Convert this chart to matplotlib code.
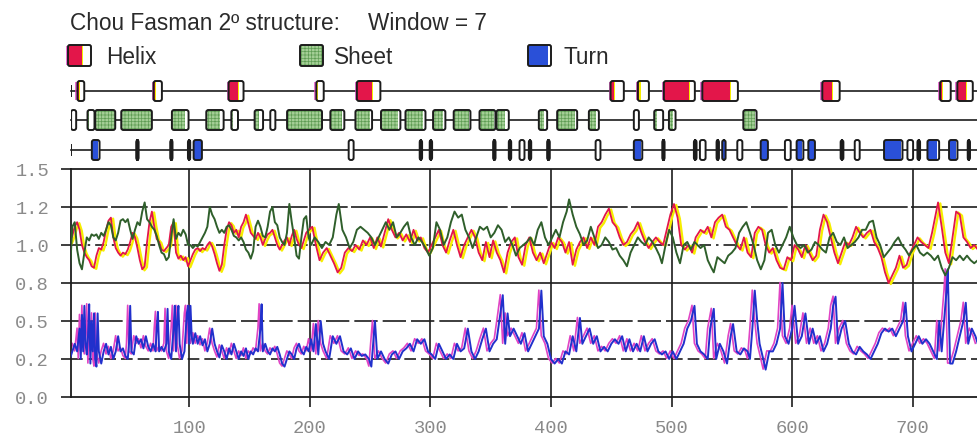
import matplotlib
matplotlib.use("Agg")
import matplotlib.pyplot as plt
from matplotlib.patches import FancyBboxPatch, Rectangle
from matplotlib.transforms import offset_copy

# ---------------- data ----------------
title_left = "Chou Fasman 2º structure:"
title_right = "Window = 7"
legend_labels = ["Helix", "Sheet", "Turn"]

xtick_vals = [100, 200, 300, 400, 500, 600, 700]
xtick_labels = ["100", "200", "300", "400", "500", "600", "700"]
ytick_vals = [0.0, 0.25, 0.5, 0.75, 1.0, 1.25, 1.5]
ytick_labels = ["0.0", "0.2", "0.5", "0.8", "1.0", "1.2", "1.5"]

helix_pts = [
    (1,1.02),(3,1.06),(5,1.12),(7,1.15),(9,1.1),(11,1.0),(13,0.95),(15,0.92),(17,0.9),(19,0.86),
    (21,0.85),(23,0.93),(25,0.98),(27,0.97),(29,1.02),(31,1.1),(33,1.16),(35,1.18),(37,1.05),(39,0.98),
    (41,0.95),(43,0.93),(45,0.95),(47,0.94),(49,0.97),(51,1.02),(53,1.08),(55,1.05),(57,0.98),(59,0.9),
    (61,0.84),(63,0.86),(65,1.02),(67,1.15),(69,1.22),(71,1.12),(73,1.04),(75,1.02),(77,0.97),(79,0.96),
    (81,0.98),(83,1.0),(85,1.12),(87,1.15),(89,0.95),(91,0.91),(93,0.93),(95,0.9),(97,0.92),(99,0.86),
    (101,0.9),(103,0.94),(105,0.97),(107,0.98),(109,0.96),(111,0.98),(113,0.97),(115,1.0),(117,1.02),(119,0.99),
    (121,0.94),(123,0.88),(125,0.83),(127,0.87),(129,1.0),(131,1.1),(133,1.15),(135,1.13),(137,1.08),(139,1.1),
    (141,1.05),(143,1.12),(145,1.15),(147,1.2),(149,1.14),(151,1.08),(153,1.06),(155,1.04),(157,1.08),(159,1.05),
    (161,1.0),(163,1.04),(165,1.07),(167,1.08),(169,1.1),(171,1.05),(173,1.0),(175,0.97),(177,1.0),(179,1.03),
    (181,1.05),(183,1.0),(185,1.06),(187,1.1),(189,1.04),(191,1.0),(193,0.98),(195,1.03),(197,1.08),(199,1.1),
    (202,1.12),(205,1.0),(208,0.9),(211,0.95),(214,0.98),(217,0.93),(220,0.88),(223,0.82),(226,0.85),(229,0.95),
    (232,0.98),(235,0.96),(238,1.0),(241,0.97),(244,1.03),(247,1.0),(250,1.05),(253,0.98),(256,1.05),(259,0.99),
    (262,1.08),(265,1.17),(268,1.1),(271,1.05),(274,1.08),(277,1.03),(280,1.07),(283,1.02),(286,1.1),(289,1.03),
    (292,1.05),(295,0.98),(298,0.95),(301,1.0),(304,1.05),(307,1.1),(310,1.0),(313,0.95),(316,1.03),(319,1.1),
    (322,1.0),(325,0.92),(328,1.0),(331,1.05),(334,1.1),(337,1.05),(340,0.95),(343,0.9),(346,1.02),(349,0.92),
    (352,1.03),(355,0.95),(358,0.9),(361,0.82),(364,0.95),(367,1.02),(370,1.05),(373,0.92),(376,0.87),(379,1.0),
    (382,1.05),(385,0.95),(388,0.9),(391,0.95),(394,0.88),(397,0.95),(400,1.02),(403,0.98),(406,1.05),(409,1.02),
    (412,0.95),(415,1.02),(418,0.87),(421,0.97),(424,1.02),(427,1.05),(430,0.98),(433,1.05),(436,1.0),(439,1.12),
    (442,1.15),(445,1.2),(448,1.24),(451,1.15),(454,1.12),(457,1.05),(460,1.0),(463,1.02),(466,1.07),(469,1.1),
    (472,1.15),(475,1.08),(478,1.02),(481,0.98),(484,1.02),(487,1.05),(490,1.02),(493,1.0),(496,1.1),(499,1.2),
    (502,1.27),(505,1.18),(508,1.0),(511,0.97),(514,1.0),(517,0.95),(520,1.05),(524,1.1),(527,1.08),(530,1.12),
    (533,1.05),(536,1.15),(539,1.18),(542,1.2),(545,1.12),(548,1.1),(551,1.05),(554,1.0),(557,0.97),(560,1.05),
    (563,0.95),(566,0.92),(569,1.08),(572,1.12),(575,1.1),(578,1.0),(581,0.95),(584,0.98),(587,0.9),(590,0.85),
    (593,0.84),(596,0.92),(599,0.9),(602,1.0),(605,0.97),(608,0.92),(611,1.0),(614,0.95),(617,0.9),(620,0.93),
    (623,1.1),(626,1.2),(629,1.15),(632,1.05),(635,0.95),(638,0.88),(641,0.95),(644,1.02),(647,1.0),(650,1.05),
    (653,1.12),(656,1.08),(659,1.05),(662,1.08),(665,1.1),(668,1.02),(671,0.98),(674,0.92),(677,0.82),(680,0.75),
    (683,0.8),(686,0.85),(689,0.93),(692,0.85),(695,0.87),(698,0.95),(701,1.0),(704,1.05),(707,1.02),(710,1.0),
    (713,0.98),(716,1.08),(719,1.2),(721,1.28),(724,1.12),(727,0.95),(730,0.88),(733,1.05),(736,1.22),(739,1.2),
    (742,1.05),(745,1.02),(748,0.98),(751,1.0),(754,0.97),
]

sheet_pts = [
    (1,0.82),(3,1.12),(5,1.15),(7,0.97),(9,0.88),(11,0.84),(13,0.95),(15,1.05),(17,1.03),(19,1.07),
    (21,1.06),(23,1.07),(25,1.04),(27,1.08),(29,1.06),(31,1.1),(33,1.15),(35,1.13),(37,1.05),(39,1.03),
    (41,1.08),(43,1.16),(45,1.17),(47,1.15),(49,1.17),(51,1.1),(53,1.04),(55,1.1),(57,1.15),(59,1.13),
    (61,1.22),(63,1.28),(65,1.17),(67,1.15),(69,1.12),(71,1.1),(73,1.06),(75,1.0),(77,0.95),(79,0.94),
    (81,0.9),(83,0.92),(85,1.05),(87,1.17),(89,1.04),(91,1.08),(93,1.06),(95,1.1),(97,1.07),(99,1.0),
    (101,1.0),(103,0.98),(105,1.0),(107,0.99),(109,1.02),(111,1.05),(113,1.08),(115,1.12),(117,1.25),(119,1.2),
    (121,1.17),(123,1.12),(125,1.08),(127,1.1),(129,1.08),(131,1.12),(133,1.13),(135,1.1),(137,1.06),(139,1.05),
    (141,1.03),(143,1.05),(145,1.02),(147,0.97),(149,0.95),(151,0.91),(153,0.96),(155,1.12),(157,1.16),(159,1.12),
    (161,1.06),(163,1.05),(165,1.12),(167,1.22),(169,1.25),(171,1.15),(173,1.13),(175,1.05),(177,1.02),(179,1.0),
    (181,1.08),(183,1.27),(185,1.15),(187,1.05),(189,0.93),(191,0.91),(193,1.05),(195,1.17),(197,1.19),(199,1.05),
    (201,1.0),(204,1.05),(207,1.02),(210,0.98),(213,1.02),(216,1.0),(219,1.05),(222,1.2),(224,1.27),(227,1.1),
    (230,1.05),(233,0.98),(236,1.02),(239,1.1),(242,1.12),(245,1.1),(248,1.08),(251,1.05),(254,1.0),(257,1.05),
    (260,1.1),(263,1.15),(266,1.1),(269,1.15),(272,1.05),(275,1.08),(278,1.12),(281,1.15),(284,1.05),(287,1.0),
    (290,1.05),(293,1.02),(296,0.98),(299,0.93),(302,0.98),(305,1.15),(308,1.1),(311,1.0),(314,1.05),(317,1.15),
    (320,1.22),(323,1.18),(326,1.2),(329,1.1),(332,1.05),(335,0.98),(338,1.05),(341,1.12),(344,1.1),(347,1.12),
    (350,1.05),(353,1.08),(356,1.13),(359,1.1),(362,1.02),(365,1.05),(368,1.0),(371,0.93),(374,0.98),(377,1.0),
    (380,1.02),(383,1.05),(386,1.0),(389,1.1),(392,1.15),(395,1.05),(398,1.0),(401,1.05),(404,1.1),(407,1.05),
    (410,1.15),(413,1.22),(415,1.3),(418,1.2),(421,1.12),(424,1.07),(427,1.0),(430,1.03),(433,1.12),(436,1.05),
    (439,0.98),(442,1.0),(445,1.05),(448,1.02),(451,0.97),(454,0.98),(457,0.93),(460,0.9),(463,0.86),(466,0.95),
    (469,1.0),(472,1.05),(475,1.02),(478,1.0),(481,1.05),(484,1.02),(487,0.98),(490,0.93),(492,0.88),(495,1.0),
    (498,1.1),(501,1.05),(504,0.95),(507,0.88),(510,1.0),(513,1.02),(516,0.97),(519,1.02),(524,0.98),(527,1.0),
    (530,0.9),(533,0.85),(535,0.82),(538,0.92),(541,0.9),(544,0.88),(547,0.93),(550,0.95),(553,0.98),(556,1.08),
    (559,1.12),(562,1.15),(565,1.08),(568,1.0),(571,0.9),(574,0.84),(577,0.9),(580,1.08),(583,1.1),(586,1.0),
    (589,0.95),(592,1.0),(595,1.05),(598,1.12),(601,1.05),(604,1.0),(607,0.98),(610,1.0),(613,0.95),(616,0.97),
    (619,1.02),(622,1.0),(625,0.97),(628,0.95),(631,1.05),(634,1.08),(637,1.02),(640,1.0),(643,1.05),(646,0.98),
    (649,1.0),(652,1.02),(655,1.05),(658,1.1),(661,1.1),(664,1.15),(667,1.16),(670,1.05),(673,1.0),(676,0.92),
    (679,0.95),(682,0.98),(685,1.02),(688,1.05),(691,1.0),(694,0.97),(697,0.93),(700,0.97),(703,1.0),(706,0.95),
    (709,0.93),(712,0.95),(715,0.93),(718,0.9),(721,0.93),(724,0.85),(727,0.8),(730,0.85),(733,0.92),(736,0.9),
    (739,0.93),(742,0.9),(745,0.93),(748,0.9),(751,0.88),(754,0.9),
]

turn_pts = [
    (1,0.25),(3,0.3),(5,0.35),(7,0.3),(9,0.45),(10,0.25),(11,0.54),(12,0.3),(13,0.6),(14,0.35),
    (15,0.28),(16,0.4),(17,0.61),(18,0.22),(19,0.5),(20,0.3),(21,0.55),(22,0.25),(23,0.2),(24,0.55),
    (25,0.3),(27,0.22),(29,0.3),(31,0.35),(33,0.28),(35,0.33),(37,0.25),(39,0.3),(41,0.4),(43,0.3),
    (45,0.32),(47,0.27),(49,0.25),(50,0.35),(51,0.6),(52,0.3),(54,0.28),(56,0.4),(58,0.35),(60,0.38),
    (62,0.32),(64,0.4),(66,0.33),(68,0.3),(70,0.35),(72,0.3),(73,0.45),(74,0.56),(75,0.3),(77,0.33),
    (79,0.3),(81,0.35),(82,0.58),(83,0.3),(85,0.25),(87,0.45),(88,0.6),(89,0.3),(90,0.5),(91,0.6),
    (92,0.35),(94,0.25),(96,0.3),(98,0.55),(99,0.6),(100,0.35),(101,0.6),(102,0.4),(103,0.35),(105,0.42),
    (107,0.35),(109,0.4),(111,0.34),(113,0.38),(115,0.3),(117,0.35),(119,0.45),(121,0.35),(123,0.3),(125,0.26),
    (127,0.34),(129,0.3),(131,0.25),(133,0.32),(135,0.28),(137,0.35),(139,0.3),(141,0.25),(143,0.3),(145,0.27),
    (147,0.32),(149,0.25),(151,0.3),(153,0.28),(155,0.32),(157,0.3),(159,0.45),(160,0.61),(161,0.3),(163,0.35),
    (165,0.3),(167,0.28),(169,0.32),(171,0.3),(173,0.33),(175,0.28),(177,0.22),(179,0.2),(181,0.25),(183,0.3),
    (185,0.28),(187,0.25),(189,0.32),(191,0.35),(193,0.3),(195,0.28),(197,0.33),(199,0.3),(201,0.38),(203,0.3),
    (205,0.48),(207,0.28),(209,0.5),(211,0.35),(213,0.3),(216,0.25),(219,0.4),(222,0.35),(225,0.4),(228,0.3),
    (231,0.28),(234,0.32),(237,0.25),(240,0.3),(243,0.27),(246,0.28),(249,0.25),(251,0.2),(254,0.5),(256,0.25),
    (259,0.3),(262,0.25),(265,0.22),(268,0.28),(271,0.3),(274,0.25),(277,0.3),(280,0.32),(283,0.35),(286,0.3),
    (289,0.38),(292,0.35),(295,0.38),(298,0.3),(301,0.28),(304,0.25),(307,0.35),(310,0.3),(313,0.25),(316,0.28),
    (319,0.25),(322,0.35),(325,0.3),(328,0.32),(331,0.45),(334,0.3),(337,0.25),(340,0.3),(343,0.38),(346,0.45),
    (349,0.3),(352,0.35),(355,0.38),(358,0.55),(360,0.67),(362,0.35),(364,0.55),(366,0.4),(369,0.45),(372,0.4),
    (375,0.35),(378,0.42),(381,0.3),(384,0.35),(387,0.4),(390,0.45),(392,0.7),(394,0.4),(397,0.35),(400,0.25),
    (403,0.22),(406,0.25),(409,0.22),(412,0.3),(415,0.28),(418,0.4),(421,0.3),(424,0.52),(426,0.35),(429,0.4),
    (432,0.45),(435,0.35),(438,0.4),(441,0.3),(444,0.33),(447,0.3),(450,0.35),(453,0.38),(456,0.35),(459,0.4),
    (462,0.3),(465,0.38),(468,0.3),(471,0.35),(474,0.3),(477,0.4),(480,0.3),(483,0.35),(486,0.38),(489,0.3),
    (492,0.28),(495,0.3),(498,0.25),(501,0.3),(504,0.25),(507,0.3),(510,0.35),(513,0.45),(516,0.5),(519,0.6),
    (521,0.35),(524,0.3),(527,0.28),(530,0.25),(532,0.45),(535,0.58),(537,0.25),(540,0.35),(543,0.3),(546,0.22),
    (549,0.4),(551,0.48),(554,0.3),(557,0.28),(560,0.32),(563,0.3),(565,0.25),(567,0.45),(569,0.7),(571,0.5),
    (573,0.35),(576,0.25),(578,0.18),(581,0.3),(584,0.3),(587,0.35),(590,0.45),(592,0.75),(594,0.4),(597,0.35),
    (600,0.45),(602,0.6),(605,0.35),(608,0.4),(611,0.55),(614,0.35),(617,0.45),(620,0.35),(623,0.4),(626,0.3),
    (629,0.35),(632,0.45),(634,0.6),(636,0.66),(638,0.35),(641,0.45),(644,0.5),(647,0.35),(650,0.3),(653,0.28),
    (656,0.33),(659,0.3),(662,0.28),(665,0.25),(668,0.3),(671,0.35),(674,0.42),(677,0.45),(680,0.43),(683,0.45),
    (686,0.4),(689,0.45),(692,0.5),(694,0.62),(696,0.4),(699,0.3),(702,0.35),(705,0.4),(708,0.35),(711,0.38),
    (714,0.35),(717,0.3),(720,0.25),(722,0.5),(724,0.3),(726,0.5),(728,0.7),(729,0.84),(731,0.22),(733,0.22),
    (736,0.3),(739,0.4),(742,0.5),(744,0.62),(746,0.35),(749,0.45),(752,0.4),(754,0.35),
]

# predicted regions: (start residue, end residue, filled fraction)
helix_regions = [
    (7.3,12.9,0.15),(70.4,77.3,0.2),(132.6,145,0.6),(205.4,211.5,0.1),(239,258.5,0.65),
    (449.4,460.4,0.25),(472,481.2,0.15),(493.6,519.3,0.8),(525.5,555,0.78),(625,639.4,0.55),
    (722.7,731.5,0.15),(737,749.8,0.55),
]
sheet_regions = [
    (2,6.2,0.0),(15.6,21.4,0.2),(22,38.6,1.0),(43.6,69,1.0),(85.6,99.4,0.8),(114.1,128.5,0.8),
    (134.9,140.4,0.3),(154.2,161.2,0.5),(167.2,171.4,0.0),(181.1,210.1,1.0),(217,228.6,0.8),
    (237.8,251.6,0.9),(259,275.1,0.9),(279.3,295.9,0.9),(302.2,312.4,0.8),(319.3,333.2,0.9),
    (340.7,353.9,0.9),(354.8,365,0.7),(389.9,396.8,0.6),(405.1,421.7,0.9),(431.4,439.7,0.7),
    (468.7,472.9,0.0),(485.6,493,0.3),(497.8,503.3,0.6),(559.5,570.5,0.9),
]
turn_regions = [
    (19.2,25.6,0.85),(56,58,1.0),(84.2,86.1,1.0),(98.9,100.8,1.0),(103.6,110.5,0.85),
    (232.2,236.3,0.0),(291.1,293.1,1.0),(299.4,301.4,1.0),(352,354,1.0),(365,367,1.0),
    (373.9,378,0.0),(381.6,383.6,1.0),(396.8,399,1.0),(437,441,0.0),(468.7,475.7,0.85),
    (492.3,494.2,1.0),(518.5,520.7,1.0),(523.5,528.2,0.0),(537.3,539.3,1.0),(542,544.8,1.0),
    (554.5,558.7,0.0),(573.9,579.9,0.85),(594,598.8,0.0),(603.7,609.3,0.85),(613.4,618.9,0.85),
    (640.2,642.5,1.0),(651.9,656,0.0),(676.2,691.5,0.9),(695.6,700.3,0.0),(703.9,706.1,1.0),
    (712.2,721.9,0.85),(730.1,737.1,0.85),(745.6,747.5,1.0),
]

# ---------------- styling ----------------
W, H = 977, 439
RED, YELLOW, GREEN = "#e3164a", "#f6ee00", "#2f5f2b"
BLUE, MAGENTA = "#2130cc", "#e044c4"
SHEET_FILL, SHEET_DOT = "#a4cf96", "#5f9d54"
TURN_FILL = "#2a50d8"
INK = "#1c1c1c"
TXT = "#2a2a2a"
TICK_TXT = "#8a8a8a"
plt.rcParams["hatch.linewidth"] = 0.5

fig = plt.figure(figsize=(W / 100, H / 100), dpi=100)
XMIN, XMAX = 1.5, 753.3
L = 70.5 / W
ax = fig.add_axes([L, 1 - 398 / H, 1 - L, (398 - 170) / H])
ax.set_xlim(XMIN, XMAX)
ax.set_ylim(0, 1.5)

# grid lines
grid_styles = {1.25: (0, (22, 2)), 1.0: (0, (7, 3, 1.5, 3)), 0.75: (0, ()),
               0.5: (0, (14, 3)), 0.25: (0, (7, 3))}
for yv, ls in grid_styles.items():
    ax.axhline(yv, color=INK, lw=1.2, ls=ls, zorder=1)
for xv in xtick_vals:
    ax.axvline(xv, color=INK, lw=1.2, zorder=1)

hx, hv = zip(*helix_pts)
sx, sv = zip(*sheet_pts)
tx, tv = zip(*turn_pts)
yel_tr = offset_copy(ax.transData, fig=fig, x=2.2, y=-1.0, units="dots")
mag_tr = offset_copy(ax.transData, fig=fig, x=-2.5, y=0.5, units="dots")
ax.plot(hx, hv, color=YELLOW, lw=1.7, transform=yel_tr, zorder=2)
ax.plot(hx, hv, color=RED, lw=1.3, zorder=3)
ax.plot(sx, sv, color=GREEN, lw=1.4, zorder=4)
ax.plot(tx, tv, color=MAGENTA, lw=1.2, transform=mag_tr, zorder=2)
ax.plot(tx, tv, color=BLUE, lw=1.4, zorder=3)

for side in ("top", "bottom", "left"):
    ax.spines[side].set_color(INK)
    ax.spines[side].set_linewidth(1.3)
ax.spines["right"].set_visible(False)

mono = "Liberation Mono"
ax.set_yticks(ytick_vals)
ax.set_yticklabels(ytick_labels, fontfamily=mono, fontsize=13.5, color=TICK_TXT)
ax.set_xticks(xtick_vals)
ax.set_xticklabels(xtick_labels, fontfamily=mono, fontsize=13.5, color=TICK_TXT)
ax.tick_params(axis="y", direction="out", length=7.5, width=1.2, color=INK, pad=8)
ax.tick_params(axis="x", direction="out", length=7.5, width=1.2, color=INK, pad=8)

# ---------------- structure tracks ----------------
tax = fig.add_axes([L, 1 - 166 / H, 1 - L, 91 / H], sharex=ax)
tax.set_ylim(166, 75)
tax.axis("off")
ASP = 1.2057
BOX_H = 20


def draw_box(axis, x0, x1, yc, frac, color, kind, aspect=ASP, h=BOX_H):
    w = x1 - x0
    y0 = yc - h / 2
    if kind == "helix":
        axis.add_patch(Rectangle((x0 - 2.0 / aspect, y0 + 1), w * 0.5, h - 2,
                                 fc=MAGENTA, ec="none", alpha=0.75, zorder=2))
    base = FancyBboxPatch((x0, y0), w, h, boxstyle="round,pad=0,rounding_size=1.8",
                          mutation_aspect=aspect, fc="white", ec="none", zorder=3)
    axis.add_patch(base)
    if frac > 0:
        if kind == "sheet":
            r = Rectangle((x0, y0), w * frac, h, fc=color, ec=SHEET_DOT, lw=0,
                          hatch="+++++", zorder=4)
        else:
            r = Rectangle((x0, y0), w * frac, h, fc=color, ec="none", zorder=4)
        axis.add_patch(r)
        r.set_clip_path(base)
    if kind == "helix":
        ys = Rectangle((x0 + w * frac, y0), min(1.0, w * 0.15), h, fc=YELLOW, ec="none", zorder=4)
        axis.add_patch(ys)
        ys.set_clip_path(base)
    axis.add_patch(FancyBboxPatch((x0, y0), w, h, boxstyle="round,pad=0,rounding_size=1.8",
                                  mutation_aspect=aspect, fc="none", ec=INK, lw=1.4, zorder=5))


rows = {"helix": 92, "sheet": 121, "turn": 151}
for kind, regs in (("helix", helix_regions), ("sheet", sheet_regions), ("turn", turn_regions)):
    yc = rows[kind]
    tax.plot([XMIN, XMAX + 5], [yc, yc], color=INK, lw=1.2, zorder=1, clip_on=False)
    tax.plot([XMIN, XMIN], [yc - 5, yc + 5], color=INK, lw=1.4, zorder=1)
    for (a, b, f) in regs:
        if kind == "helix":
            col = RED
        elif kind == "sheet":
            col = SHEET_FILL
        else:
            col = INK if (b - a) < 2.6 else TURN_FILL
        draw_box(tax, a, b, yc, f, col, kind)

# ---------------- title and legend (pixel overlay) ----------------
lax = fig.add_axes([0, 0, 1, 1])
lax.set_xlim(0, W)
lax.set_ylim(H, 0)
lax.axis("off")
sans = "Liberation Sans"
lax.text(70, 23, title_left, fontsize=16.3, family=sans, color=TXT, va="center", ha="left")
lax.text(368, 23, title_right, fontsize=16.3, family=sans, color=TXT, va="center", ha="left")

icon_x = [68, 300, 528]
text_x = [106, 334, 563]
icon_fill = [RED, SHEET_FILL, TURN_FILL]
icon_frac = [0.62, 1.0, 0.85]
icon_kind = ["helix", "sheet", "turn"]
for ix, txx, lab, col, fr, kd in zip(icon_x, text_x, legend_labels, icon_fill, icon_frac, icon_kind):
    draw_box(lax, ix, ix + 23, 56.5, fr, col, kd, aspect=1.0, h=21)
    lax.text(txx, 57, lab, fontsize=16.3, family=sans, color=TXT, va="center", ha="left")

fig.savefig("out.png", dpi=100)
